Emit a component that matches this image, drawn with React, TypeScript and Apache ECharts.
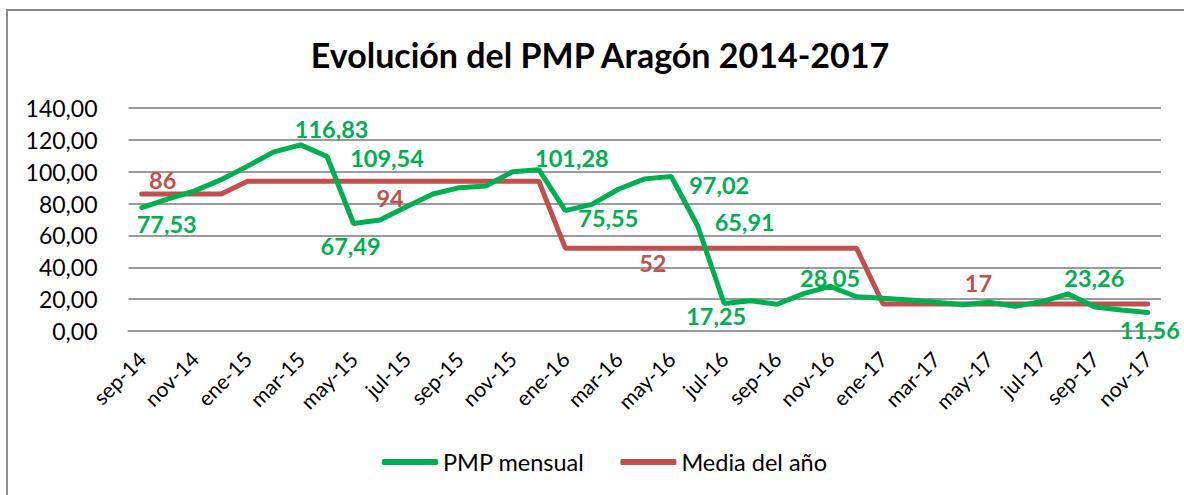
import React, { useEffect, useRef } from "react";
import * as echarts from "echarts";

// Meses de septiembre 2014 a noviembre 2017
const categories = [
  "sep-14", "oct-14", "nov-14", "dic-14",
  "ene-15", "feb-15", "mar-15", "abr-15", "may-15", "jun-15", "jul-15", "ago-15", "sep-15", "oct-15", "nov-15", "dic-15",
  "ene-16", "feb-16", "mar-16", "abr-16", "may-16", "jun-16", "jul-16", "ago-16", "sep-16", "oct-16", "nov-16", "dic-16",
  "ene-17", "feb-17", "mar-17", "abr-17", "may-17", "jun-17", "jul-17", "ago-17", "sep-17", "oct-17", "nov-17",
];

// PMP mensual (días)
const pmpMensual = [
  77.53, 83, 88, 95,
  103.5, 112.5, 116.83, 109.54, 67.49, 69.7, 78, 86, 90, 91, 100, 101.28,
  75.55, 79.5, 89, 95.5, 97.02, 65.91, 17.25, 19, 16.8, 23.5, 28.05, 21.5,
  20.5, 19.5, 18, 16.5, 18, 15.5, 18.5, 23.26, 15, 13.2, 11.56,
];

// Media anual del PMP
const mediaAnual = [
  86, 86, 86, 86,
  94, 94, 94, 94, 94, 94, 94, 94, 94, 94, 94, 94,
  52, 52, 52, 52, 52, 52, 52, 52, 52, 52, 52, 52,
  17, 17, 17, 17, 17, 17, 17, 17, 17, 17, 17,
];

const yTicks = { min: 0, max: 140, interval: 20 };

// Etiquetas visibles: índice del mes -> desplazamiento del texto respecto al punto
const pmpLabelOffsets: Record<number, [number, number]> = {
  0: [25, 16],
  6: [31, -16],
  7: [60, 1],
  8: [-3, 23],
  15: [33, -12],
  16: [43, 7],
  20: [48, 9],
  21: [47, -4],
  22: [-8, 12],
  26: [0, -8],
  35: [26, -16],
  38: [2, 17],
};
const mediaLabelOffsets: Record<number, [number, number]> = {
  0: [21, -14],
  9: [10, 17],
  19: [8, 15],
  31: [16, -21],
};

const GREEN = "#00B050";
const RED = "#C0504D";
const FONT = "Lato, 'Open Sans', sans-serif";

function withLabels(values: number[], offsets: Record<number, [number, number]>) {
  return values.map((v, i) =>
    offsets[i]
      ? { value: v, label: { show: true, position: "inside", offset: offsets[i] } }
      : v
  );
}

export default function App() {
  const ref = useRef<HTMLDivElement>(null);

  useEffect(() => {
    if (!ref.current) return;
    const chart = echarts.init(ref.current, null, { renderer: "svg" });
    chart.setOption({
      animation: false,
      backgroundColor: "#ffffff",
      textStyle: { fontFamily: FONT },
      graphic: [
        {
          type: "rect",
          shape: { x: 7, y: 10, width: 1400, height: 700 },
          style: { fill: "none", stroke: "#8c8c8c", lineWidth: 2 },
          silent: true,
        },
        {
          type: "text",
          x: 600,
          y: 54,
          style: {
            text: "Evolución del PMP Aragón 2014-2017",
            textAlign: "center",
            textVerticalAlign: "middle",
            fontFamily: FONT,
            fontWeight: "bold",
            fontSize: 34,
            fill: "#000000",
          },
        },
      ],
      legend: {
        left: 377,
        top: 445,
        icon: "roundRect",
        itemWidth: 56,
        itemHeight: 6,
        itemGap: 36,
        textStyle: { fontFamily: FONT, fontSize: 23.5, color: "#000000" },
        data: ["PMP mensual", "Media del año"],
      },
      grid: { left: 128.5, right: 23, top: 108, bottom: 164 },
      xAxis: {
        type: "category",
        data: categories,
        boundaryGap: true,
        axisLine: { show: true, lineStyle: { color: "#9a9a9a", width: 2 } },
        axisTick: { show: false },
        axisLabel: {
          interval: 1,
          rotate: 45,
          margin: 24,
          fontFamily: FONT,
          fontSize: 21,
          color: "#000000",
        },
      },
      yAxis: {
        type: "value",
        min: yTicks.min,
        max: yTicks.max,
        interval: yTicks.interval,
        axisLine: { show: false },
        axisTick: { show: false },
        splitLine: { lineStyle: { color: "#9a9a9a", width: 2 } },
        axisLabel: {
          margin: 31,
          fontFamily: FONT,
          fontSize: 23,
          color: "#000000",
          formatter: (v: number) => v.toFixed(2).replace(".", ","),
        },
      },
      series: [
        {
          name: "Media del año",
          type: "line",
          data: withLabels(mediaAnual, mediaLabelOffsets),
          color: RED,
          symbol: "circle",
          symbolSize: 1,
          lineStyle: { color: RED, width: 5, cap: "round" },
          itemStyle: { color: RED },
          z: 2,
          label: {
            show: false,
            color: RED,
            fontFamily: FONT,
            fontWeight: "bold",
            fontSize: 23.5,
            formatter: (p: any) => String(Math.round(p.value)),
          },
        },
        {
          name: "PMP mensual",
          type: "line",
          data: withLabels(pmpMensual, pmpLabelOffsets),
          color: GREEN,
          symbol: "circle",
          symbolSize: 1,
          lineStyle: { color: GREEN, width: 5, cap: "round" },
          itemStyle: { color: GREEN },
          z: 3,
          label: {
            show: false,
            color: GREEN,
            fontFamily: FONT,
            fontWeight: "bold",
            fontSize: 23.5,
            formatter: (p: any) => p.value.toFixed(2).replace(".", ","),
          },
        },
      ],
    });
    return () => chart.dispose();
  }, []);

  return (
    <div
      ref={ref}
      style={{ position: "fixed", left: 0, top: 0, width: 1184, height: 495 }}
    />
  );
}
